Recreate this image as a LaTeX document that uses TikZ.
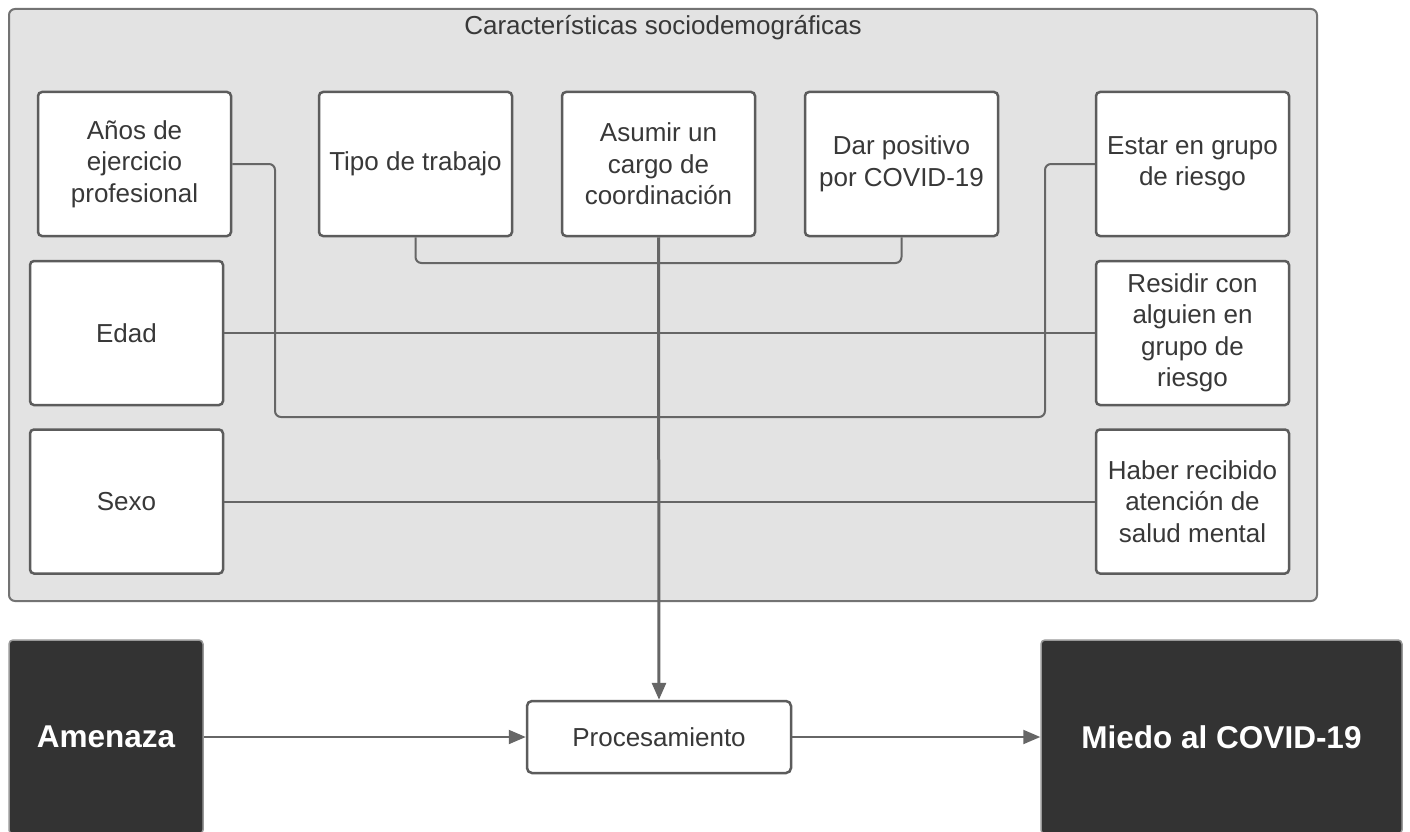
\documentclass[tikz,border=0pt]{standalone}
\usepackage{fontspec}
\setmainfont{Liberation Sans}
\usetikzlibrary{arrows.meta}
\definecolor{txt}{HTML}{383838}
\definecolor{edge}{HTML}{5C5C5C}
\definecolor{wire}{HTML}{666666}
\definecolor{panel}{HTML}{E3E3E3}
\definecolor{dark}{HTML}{333333}
\tikzset{
  factor/.style={rectangle, rounded corners=4pt, draw=edge, line width=2.5pt, fill=white,
    minimum width=193pt, minimum height=144pt, align=center, text=txt,
    font=\fontsize{26}{31.5}\selectfont, inner sep=0pt},
  procbox/.style={rectangle, rounded corners=5pt, draw=edge, line width=2.5pt, fill=white,
    minimum width=264pt, minimum height=72pt, text=txt, font=\fontsize{26}{31.5}\selectfont},
  darkbox/.style={rectangle, rounded corners=4pt, draw=gray!80, line width=1.5pt, fill=dark,
    minimum height=194pt, text=white, font=\fontsize{31.5}{36}\selectfont\bfseries},
  wireline/.style={draw=wire, line width=2pt, rounded corners=6pt},
  mainline/.style={draw=wire, line width=3pt},
  tip/.style={-{Triangle[length=17pt, width=14pt]}}
}
\begin{document}
\begin{tikzpicture}[x=1pt, y=-1pt]
  \useasboundingbox (0,0) rectangle (1410,832);
  \fill[white] (0,0) rectangle (1410,832);

  % grouping panel
  \node[rectangle, rounded corners=6pt, draw=gray!90!black, line width=2pt, fill=panel,
        minimum width=1308pt, minimum height=592pt, inner sep=0pt] (panel) at (663,305) {};
  \node[text=txt, font=\fontsize{26}{31.5}\selectfont] (title) at (663,28) {Características sociodemográficas};

  % sociodemographic factors
  \node[factor] (anos) at (134.5,164) {Años de\\ejercicio\\profesional};
  \node[factor] (tipo) at (415.5,164) {Tipo de trabajo};
  \node[factor] (asumir) at (658.5,164) {Asumir un\\cargo de\\coordinación};
  \node[factor] (dar) at (901.5,164) {Dar positivo\\por COVID-19};
  \node[factor] (estar) at (1192.5,164) {Estar en grupo\\de riesgo};
  \node[factor] (edad) at (126.5,333) {Edad};
  \node[factor] (residir) at (1192.5,333) {Residir con\\alguien en\\grupo de\\riesgo};
  \node[factor] (sexo) at (126.5,501.5) {Sexo};
  \node[factor] (haber) at (1192.5,501.5) {Haber recibido\\atención de\\salud mental};

  % model
  \node[darkbox, minimum width=194pt] (amenaza) at (106,737) {Amenaza};
  \node[procbox] (proc) at (659,737) {Procesamiento};
  \node[darkbox, minimum width=361pt] (miedo) at (1221.5,737) {Miedo al COVID-19};

  % junction points on the vertical trunk
  \coordinate (jtop) at (658.5,263);
  \coordinate (jmid) at (658.5,417);
  \coordinate (lbend) at (275,417);
  \coordinate (rbend) at (1045,417);

  % feeders into the trunk
  \draw[wireline] (tipo.south) |- (jtop);
  \draw[wireline] (dar.south) |- (jtop);
  \draw[wireline] (anos.east) -| (lbend) -- (jmid);
  \draw[wireline] (estar.west) -| (rbend) -- (jmid);
  \draw[wireline] (edad.east) -- (residir.west);
  \draw[wireline] (sexo.east) -- (haber.west);

  % trunk and main flow
  \draw[mainline, tip] (asumir.south) -- (proc.north);
  \draw[wireline, tip] (amenaza.east) -- (proc.west);
  \draw[wireline, tip] (proc.east) -- (miedo.west);
\end{tikzpicture}
\end{document}
